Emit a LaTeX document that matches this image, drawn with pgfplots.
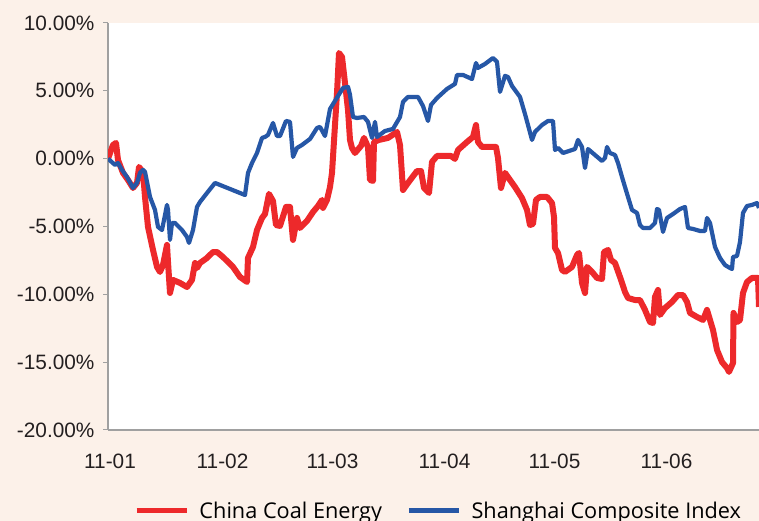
\documentclass[border=0pt]{standalone}
\usepackage{pgfplots}
\pgfplotsset{compat=1.18}
\usepackage{fontspec}
\setmainfont{Liberation Sans}
\newfontfamily\legfont{Open Sans}
\definecolor{bgpeach}{RGB}{252,241,233}
\definecolor{cred}{RGB}{237,41,43}
\definecolor{cblue}{RGB}{38,87,166}
\definecolor{axgray}{RGB}{160,160,160}
\definecolor{txt}{RGB}{35,31,32}
\begin{document}
\begin{tikzpicture}
\fill[bgpeach] (0pt,0pt) rectangle (759pt,521pt);
\begin{axis}[
  at={(108pt,91pt)}, anchor=south west,
  scale only axis, width=651pt, height=407pt,
  xmin=108, xmax=759, ymin=-20, ymax=10,
  axis background/.style={fill=white},
  axis lines*=left,
  axis line style={draw=axgray, line width=1.3pt},
  xtick={110,222.5,332.5,444.5,554.5,666.5},
  xticklabels={11-01,11-02,11-03,11-04,11-05,11-06},
  ytick={-20,-15,-10,-5,0,5,10},
  yticklabels={-20.00\%,-15.00\%,-10.00\%,-5.00\%,0.00\%,5.00\%,10.00\%},
  tick align=outside, ytick pos=left,
  major tick length=5pt,
  y tick style={draw=axgray, line width=1pt},
  x tick style={draw=none},
  tick label style={font=\fontsize{20.8}{24}\selectfont, text=txt},
  yticklabel style={xshift=-5pt},
  xticklabel style={yshift=-15pt},
  clip=true,
  legend columns=2,
  legend style={draw=none, fill=none, at={(0.035,-0.198)}, anchor=west,
    font=\legfont\fontsize{21.7}{25}\selectfont, text=black,
    /tikz/every odd column/.append style={column sep=8pt},
    /tikz/every even column/.append style={column sep=22pt}},
  legend image code/.code={\draw[#1, line width=5.5pt] (0pt,0pt) -- (50pt,0pt);},
]
\addplot[color=cred, line width=6pt, line join=round] coordinates {
(108,0) (113,1.01) (116,1.16) (118,-0.10) (123,-1.05) (128,-1.57) (133,-2.16)
(137,-1.79) (139,-0.61) (143,-0.98) (145,-2.82) (148,-5.03) (153,-6.73)
(157,-7.98) (160,-8.35) (163,-7.84) (167,-6.36) (168,-7.61) (170,-9.90)
(173,-8.94) (180,-9.16) (187,-9.46) (192,-8.94) (195,-7.69) (197,-8.06)
(200,-7.69) (207,-7.32) (213,-6.88) (217,-6.88) (223,-7.25) (233,-7.98)
(240,-8.72) (247,-9.09) (248,-7.32) (253,-6.51) (257,-5.26) (262,-4.37)
(265,-4.08) (269,-2.60) (273,-3.12) (276,-4.89) (280,-4.96) (286,-3.56)
(290,-3.56) (293,-5.99) (297,-4.37) (300,-5.11) (307,-4.59) (313,-3.93)
(318,-3.49) (322,-3.04) (323,-3.63) (327,-3.04) (330,-2.09) (332,-1.05)
(335,2.48) (337,4.84) (339,7.79) (342,7.50) (345,5.58) (348,3.59)
(350,1.38) (352,0.79) (355,0.42) (361,0.94) (364,1.53) (368,0.86)
(370,-1.57) (373,-1.64) (374,1.23) (379,1.38) (388,1.53) (397,1.97)
(400,1.01) (403,-2.31) (408,-1.79) (417,-0.91) (421,-0.91) (424,-2.16)
(429,-2.53) (432,-0.24) (437,0.20) (451,0.20) (455,-0.02) (458,0.64)
(467,1.23) (473,1.60) (476,2.48) (478,1.23) (482,0.86) (496,0.86)
(498,0.05) (501,-2.16) (505,-1.05) (510,-1.57) (515,-2.09) (522,-2.90)
(527,-3.78) (530,-4.89) (533,-4.81) (536,-3.04) (540,-2.82) (547,-2.82)
(552,-3.27) (554,-4.30) (555,-6.58) (558,-6.95) (562,-8.20) (565,-8.35)
(572,-7.98) (577,-7.10) (579,-6.95) (582,-9.16) (585,-9.90) (587,-7.98)
(592,-8.35) (597,-8.79) (602,-8.87) (604,-6.88) (608,-6.73) (611,-7.47)
(615,-7.69) (620,-8.72) (625,-9.83) (628,-10.27) (635,-10.42) (640,-10.42)
(645,-11.15) (650,-12.04) (653,-12.11) (655,-10.19) (658,-9.68) (660,-11.52)
(665,-11.01) (672,-10.56) (678,-10.05) (683,-10.05) (687,-10.56) (690,-11.37)
(697,-11.67) (703,-11.89) (707,-11.15) (710,-11.89) (713,-12.63) (717,-14.10)
(722,-14.99) (727,-15.43) (729,-15.72) (733,-15.06) (733.5,-11.37) (737,-12.04)
(740,-11.89) (743,-9.90) (747,-9.09) (752,-8.79) (758,-8.79) (759,-10.93)
};
\addlegendentry{China Coal Energy}
\addplot[color=cblue, line width=4.2pt, line join=round] coordinates {
(108,0) (115,-0.46) (118,-0.32) (122,-0.83) (127,-1.35) (133,-2.16)
(137,-1.79) (140,-1.05) (143,-0.83) (145,-0.98) (150,-2.82) (155,-3.78)
(158,-5.03) (162,-5.26) (163,-4.89) (167,-3.41) (168,-3.78) (170,-5.99)
(172,-4.74) (175,-4.74) (182,-5.26) (187,-5.77) (189,-6.21) (193,-5.26)
(197,-3.56) (200,-3.19) (207,-2.53) (215,-1.79) (245,-2.68) (248,-1.05)
(252,-0.32) (257,0.42) (262,1.53) (265,1.60) (268,1.75) (273,2.63)
(277,1.67) (280,1.67) (286,2.78) (290,2.71) (293,0.13) (297,0.79)
(302,1.01) (310,1.45) (317,2.26) (320,2.34) (325,1.67) (330,3.66)
(338,4.62) (343,5.21) (348,5.29) (350,4.70) (353,3.07) (357,3.00)
(364,3.07) (368,2.71) (372,1.53) (375,2.71) (377,1.60) (385,2.04)
(393,2.19) (400,3.07) (403,4.18) (408,4.55) (418,4.55) (423,3.88)
(428,2.78) (431,3.96) (437,4.47) (447,5.14) (455,5.51) (457,6.17)
(463,6.17) (472,5.87) (476,7.05) (478,6.69) (485,6.98) (493,7.42)
(497,7.13) (500,4.92) (505,6.10) (508,6.02) (512,5.36) (520,4.55)
(525,3.29) (528,2.48) (532,1.38) (535,1.97) (542,2.48) (548,2.78)
(553,2.78) (555,0.64) (558,0.79) (563,0.42) (572,0.64) (575,0.71)
(578,1.38) (582,0.86) (585,-0.69) (588,0.71) (595,0.27) (602,-0.17)
(605,0.05) (607,0.86) (610,0.42) (615,0.27) (618,-0.32) (622,-1.35)
(625,-2.09) (628,-2.82) (632,-3.78) (637,-4.00) (640,-4.89) (643,-5.11)
(650,-5.11) (655,-4.74) (657,-3.71) (659,-3.78) (663,-5.40) (667,-4.37)
(673,-4.08) (680,-3.71) (685,-3.56) (688,-5.11) (693,-5.18) (700,-5.33)
(705,-5.33) (707,-4.37) (710,-4.74) (715,-6.51) (720,-7.32) (725,-7.84)
(730,-8.06) (732,-8.13) (733,-7.25) (737,-7.17) (740,-6.14) (743,-4.00)
(747,-3.49) (752,-3.41) (757,-3.27) (759,-3.63)
};
\addlegendentry{Shanghai Composite Index}
\end{axis}
\pgfresetboundingbox
\useasboundingbox (0pt,0pt) rectangle (759pt,521pt);
\end{tikzpicture}
\end{document}
